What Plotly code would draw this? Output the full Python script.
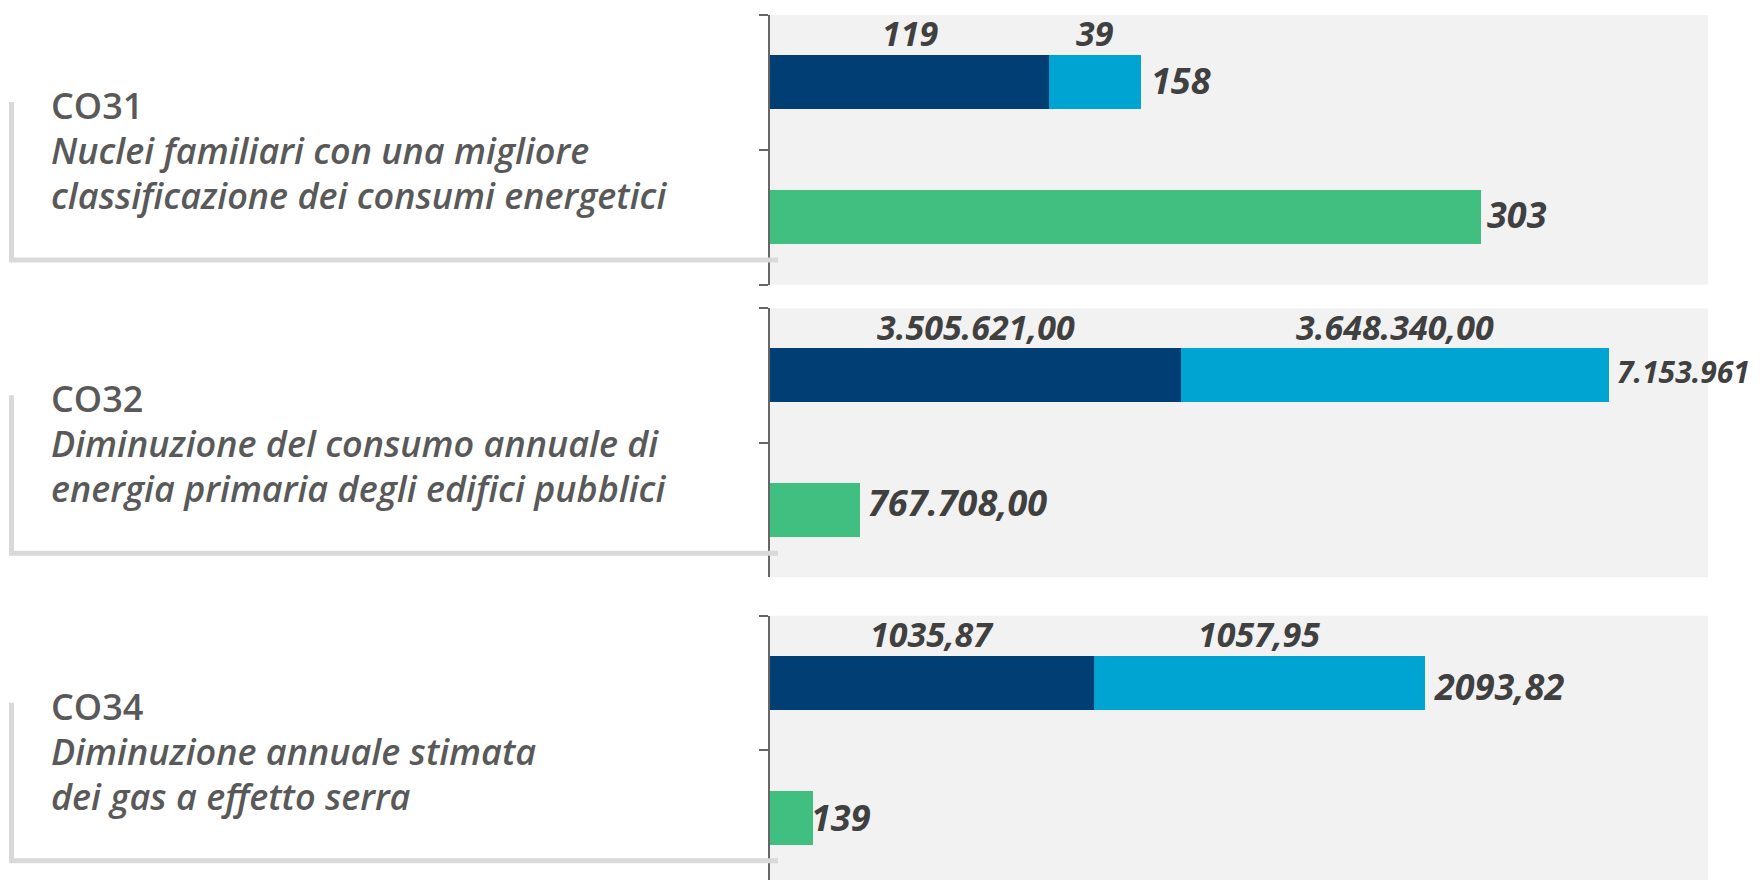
import plotly.graph_objects as go

# ---------------- data ----------------
indicatori = ["CO31", "CO32", "CO34"]
descrizioni = [
    ["Nuclei familiari con una migliore", "classificazione dei consumi energetici"],
    ["Diminuzione del consumo annuale di", "energia primaria degli edifici pubblici"],
    ["Diminuzione annuale stimata", "dei gas a effetto serra"],
]
valori_a = [119, 3505621.00, 1035.87]
valori_b = [39, 3648340.00, 1057.95]
valori_c = [303, 767708.00, 139]
etichette_a = ["119", "3.505.621,00", "1035,87"]
etichette_b = ["39", "3.648.340,00", "1057,95"]
etichette_tot = ["158", "7.153.961", "2093,82"]
etichette_c = ["303", "767.708,00", "139"]
x_max = [400, 8000000, 3000]

# ---------------- style ----------------
W, H = 1762, 880
OFF = 8  # page body margin
DARK = "#003e74"
LIGHT = "#00a4d2"
GREEN = "#41bf80"
BG = "#f2f2f2"
AX = "#666666"
TXT = "#595959"
LBL = "#404040"
FONT = "Open Sans"
X0, X1 = 770, 1708                     # page px of plot area
panels_px = [(15, 284.5), (308.3, 577.3), (615.7, 888)]
CAT_PX = (284.5 - 15) / 2
LBL_SIZE = 36
TOP_SIZE = 34
TOT_SIZE = [36, 30, 36]
SHIFT_TOT = [8, 6, 7]
YSHIFT_TOT = [2, 4, -3]
SHIFT_C = [4, 6, -4]
YSHIFT_C = [3, 8, 0]


def px_x(p):
    return (p - OFF) / W


def px_y(p):
    return 1 - (p - OFF) / H


fig = go.Figure()
annotations = []
shapes = []

for i in range(3):
    n = "" if i == 0 else str(i + 1)
    xa, ya = "x" + n, "y" + n
    top, bot = panels_px[i]
    y_lo = 1.5 - (bot - top) / CAT_PX

    fig.add_trace(go.Bar(x=[valori_a[i]], y=[1], orientation="h", marker_color=DARK,
                         marker_line_width=0, width=0.4, xaxis=xa, yaxis=ya,
                         showlegend=False, hoverinfo="skip"))
    fig.add_trace(go.Bar(x=[valori_b[i]], y=[1], orientation="h", marker_color=LIGHT,
                         marker_line_width=0, width=0.4, xaxis=xa, yaxis=ya,
                         showlegend=False, hoverinfo="skip"))
    fig.add_trace(go.Bar(x=[valori_c[i]], y=[0], orientation="h", marker_color=GREEN,
                         marker_line_width=0, width=0.4, xaxis=xa, yaxis=ya,
                         showlegend=False, hoverinfo="skip"))

    fig.layout["xaxis" + n] = dict(domain=[px_x(X0), px_x(X1)], range=[0, x_max[i]], anchor=ya,
                                   showgrid=False, zeroline=False, showticklabels=False,
                                   showline=False, ticks="")
    fig.layout["yaxis" + n] = dict(domain=[max(0, px_y(bot)), px_y(top)], range=[y_lo, 1.5],
                                   anchor=xa, tickmode="array", tickvals=[-0.5, 0.5, 1.5],
                                   ticks="outside", ticklen=9, tickwidth=2, tickcolor=AX,
                                   showline=True, linecolor=AX, linewidth=2,
                                   showticklabels=False, showgrid=False, zeroline=False)

    lblfont = dict(family=FONT, size=LBL_SIZE, color=LBL, weight=700, style="italic")
    topfont = dict(lblfont, size=TOP_SIZE)
    annotations.append(dict(x=valori_a[i] / 2, y=1.2, xref=xa, yref=ya, text=etichette_a[i],
                            showarrow=False, xanchor="center", yanchor="middle", yshift=22,
                            borderpad=0, font=topfont))
    annotations.append(dict(x=valori_a[i] + valori_b[i] / 2, y=1.2, xref=xa, yref=ya,
                            text=etichette_b[i], showarrow=False, xanchor="center",
                            yanchor="middle", yshift=22, borderpad=0, font=topfont))
    annotations.append(dict(x=valori_a[i] + valori_b[i], y=1, xref=xa, yref=ya,
                            text=etichette_tot[i], showarrow=False, xanchor="left",
                            yanchor="middle", xshift=SHIFT_TOT[i], yshift=YSHIFT_TOT[i],
                            font=dict(lblfont, size=TOT_SIZE[i])))
    annotations.append(dict(x=valori_c[i], y=0, xref=xa, yref=ya, text=etichette_c[i],
                            showarrow=False, xanchor="left", yanchor="middle",
                            xshift=SHIFT_C[i], yshift=YSHIFT_C[i], font=lblfont))

    righe = [indicatori[i]] + descrizioni[i]
    for k, riga in enumerate(righe):
        base = top + 103.5 + 45 * k
        annotations.append(dict(x=px_x(49), y=px_y(base - 13), xref="paper", yref="paper",
                                text=riga, showarrow=False, xanchor="left", yanchor="middle",
                                font=dict(family=FONT, size=36, color=TXT, weight=600,
                                          style="normal" if k == 0 else "italic")))

    shapes.append(dict(type="line", xref="paper", yref="paper", x0=px_x(11.5), x1=px_x(11.5),
                       y0=px_y(top + 87), y1=px_y(top + 245),
                       line=dict(color="#d9d9d9", width=5)))
    shapes.append(dict(type="line", xref="paper", yref="paper", x0=px_x(9), x1=px_x(778),
                       y0=px_y(top + 245), y1=px_y(top + 245),
                       line=dict(color="#d9d9d9", width=5)))

fig.update_layout(width=W, height=H, margin=dict(l=0, r=0, t=0, b=0),
                  paper_bgcolor="white", plot_bgcolor=BG, barmode="stack", bargap=0,
                  annotations=annotations, shapes=shapes, showlegend=False)

fig.write_html("out.html", config={"displayModeBar": False})
